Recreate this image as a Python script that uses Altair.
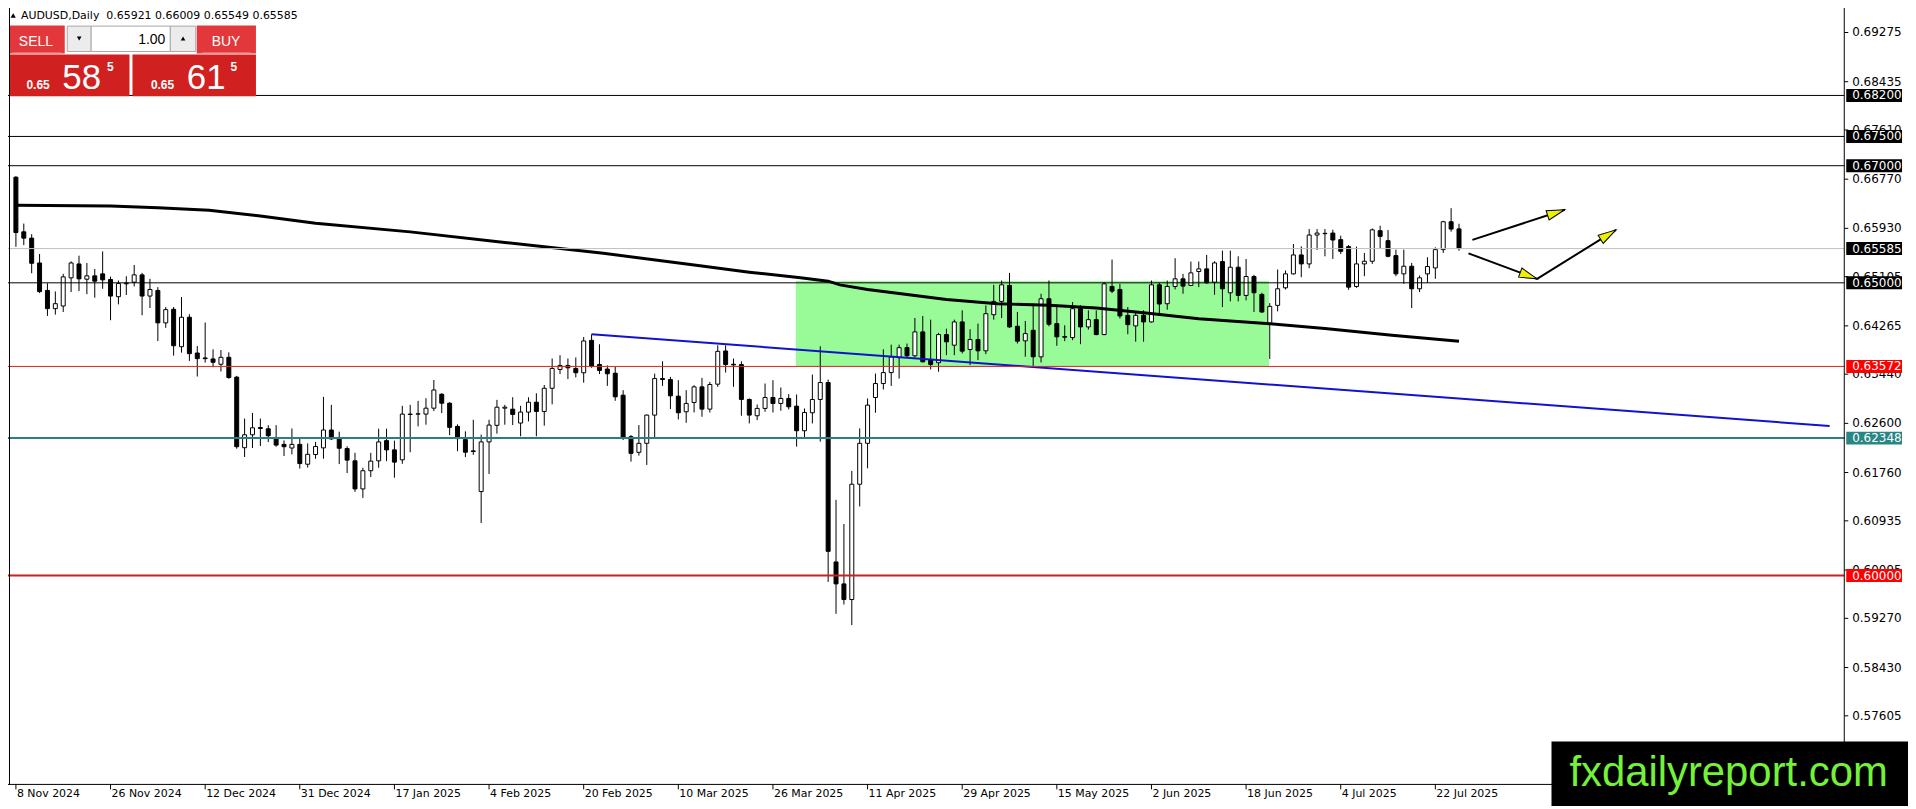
import math
import pandas as pd
import altair as alt

# ---------------- data ----------------
OPEN = [
    0.66804, 0.65871, 0.65763, 0.65339, 0.64870, 0.64559, 0.64604, 0.65085, 0.65322, 0.65062,
    0.65119, 0.65153, 0.65057, 0.64763, 0.64983, 0.65011, 0.65136, 0.64774, 0.64870, 0.64316,
    0.64548, 0.63909, 0.64412, 0.63801, 0.63717, 0.63700, 0.63609, 0.63728, 0.63389, 0.62184,
    0.62405, 0.62529, 0.62507, 0.62354, 0.62241, 0.62179, 0.62241, 0.61902, 0.62068, 0.62181,
    0.62486, 0.62345, 0.62170, 0.61960, 0.61480, 0.61791, 0.61960, 0.62305, 0.62147, 0.61977,
    0.62758, 0.62758, 0.62758, 0.62859, 0.63097, 0.62944, 0.62548, 0.62322, 0.62130, 0.61435,
    0.62283, 0.62566, 0.62859, 0.62842, 0.62605, 0.62792, 0.62961, 0.62803, 0.63199, 0.63521,
    0.63589, 0.63538, 0.63464, 0.64018, 0.63606, 0.63527, 0.63456, 0.63081, 0.62372, 0.62105,
    0.62259, 0.62741, 0.63365, 0.63348, 0.63064, 0.62798, 0.62957, 0.63223, 0.62843, 0.63269,
    0.63836, 0.63609, 0.63604, 0.63008, 0.62730, 0.62855, 0.63042, 0.62940, 0.63025, 0.62894,
    0.62474, 0.62781, 0.63008, 0.63297, 0.60233, 0.59858, 0.59591, 0.61560, 0.62259, 0.63042,
    0.63280, 0.63467, 0.63723, 0.63895, 0.63754, 0.64162, 0.63680, 0.63635, 0.64116, 0.63935,
    0.64332, 0.63861, 0.64031, 0.63839, 0.64456, 0.64683, 0.64955, 0.64258, 0.64009, 0.64190,
    0.63736, 0.64728, 0.64303, 0.64082, 0.64065, 0.64558, 0.64247, 0.64371, 0.64116, 0.64938,
    0.64887, 0.64445, 0.64264, 0.64445, 0.64332, 0.64966, 0.64643, 0.64938, 0.65068, 0.64955,
    0.65193, 0.65238, 0.65011, 0.65363, 0.64830, 0.65266, 0.64785, 0.65108, 0.64802, 0.64292,
    0.64615, 0.64915, 0.65153, 0.65476, 0.65323, 0.65816, 0.65845, 0.65850, 0.65737, 0.65618,
    0.64938, 0.65323, 0.65368, 0.65890, 0.65720, 0.65465, 0.65153, 0.65283, 0.64898, 0.65153,
    0.65255, 0.65567, 0.66043, 0.65921,
]
HIGH = [
    0.66821, 0.66012, 0.65831, 0.65492, 0.64994, 0.64853, 0.65153, 0.65367, 0.65464, 0.65339,
    0.65237, 0.65537, 0.65107, 0.65040, 0.65113, 0.65305, 0.65170, 0.65068, 0.64927, 0.64587,
    0.64587, 0.64757, 0.64463, 0.63920, 0.64322, 0.63864, 0.63852, 0.63813, 0.63411, 0.62682,
    0.62778, 0.62682, 0.62569, 0.62569, 0.62309, 0.62512, 0.62366, 0.62258, 0.62283, 0.63052,
    0.62916, 0.62458, 0.62209, 0.62096, 0.61842, 0.62096, 0.62509, 0.62509, 0.62305, 0.62899,
    0.62916, 0.62984, 0.63029, 0.63340, 0.63114, 0.62961, 0.62582, 0.62464, 0.62661, 0.62407,
    0.62661, 0.63001, 0.62916, 0.63046, 0.62899, 0.63046, 0.63114, 0.63255, 0.63708, 0.63764,
    0.63708, 0.63725, 0.64075, 0.64120, 0.63951, 0.63589, 0.63564, 0.63167, 0.62400, 0.62571,
    0.62752, 0.63450, 0.63660, 0.63393, 0.63337, 0.63167, 0.63252, 0.63376, 0.63308, 0.63933,
    0.63933, 0.63706, 0.63660, 0.63025, 0.62922, 0.63280, 0.63337, 0.63212, 0.63099, 0.63093,
    0.62854, 0.63433, 0.63916, 0.63348, 0.61294, 0.60880, 0.61787, 0.62514, 0.63025, 0.63450,
    0.63865, 0.63944, 0.63944, 0.63963, 0.64400, 0.64434, 0.64371, 0.64145, 0.64218, 0.64371,
    0.64530, 0.64207, 0.64303, 0.64615, 0.64966, 0.65040, 0.65170, 0.64502, 0.64349, 0.64643,
    0.64813, 0.65040, 0.64587, 0.64275, 0.64672, 0.64615, 0.64530, 0.64530, 0.65012, 0.65397,
    0.64983, 0.64587, 0.64502, 0.64530, 0.65040, 0.65000, 0.65040, 0.65420, 0.65153, 0.65363,
    0.65363, 0.65476, 0.65368, 0.65550, 0.65550, 0.65453, 0.65408, 0.65136, 0.64830, 0.64654,
    0.65227, 0.65210, 0.65663, 0.65623, 0.65918, 0.65918, 0.65918, 0.65907, 0.65805, 0.65646,
    0.65618, 0.65510, 0.65929, 0.65975, 0.65901, 0.65567, 0.65567, 0.65340, 0.65125, 0.65436,
    0.65606, 0.66060, 0.66275, 0.66009,
]
LOW = [
    0.65616, 0.65645, 0.65164, 0.64825, 0.64435, 0.64457, 0.64502, 0.64842, 0.64859, 0.64806,
    0.64746, 0.64898, 0.64361, 0.64632, 0.64791, 0.64938, 0.64446, 0.64570, 0.64005, 0.64231,
    0.63756, 0.63807, 0.63666, 0.63400, 0.63637, 0.63558, 0.63485, 0.63360, 0.62167, 0.62026,
    0.62179, 0.62213, 0.62280, 0.62201, 0.62043, 0.62071, 0.61828, 0.61845, 0.61994, 0.61996,
    0.62317, 0.61904, 0.61751, 0.61429, 0.61327, 0.61683, 0.61842, 0.61955, 0.61672, 0.61909,
    0.62107, 0.62548, 0.62577, 0.62809, 0.62775, 0.62396, 0.62124, 0.62023, 0.62062, 0.60897,
    0.61734, 0.62424, 0.62577, 0.62571, 0.62379, 0.62633, 0.62379, 0.62560, 0.62925, 0.63442,
    0.63357, 0.63385, 0.63295, 0.63549, 0.63442, 0.63240, 0.62985, 0.62315, 0.61946, 0.62049,
    0.61890, 0.62361, 0.63240, 0.62843, 0.62667, 0.62610, 0.62786, 0.62713, 0.62786, 0.63223,
    0.63467, 0.63223, 0.62730, 0.62599, 0.62656, 0.62798, 0.62786, 0.62815, 0.62837, 0.62202,
    0.62361, 0.62599, 0.62287, 0.59892, 0.59347, 0.59506, 0.59154, 0.61181, 0.61833, 0.62781,
    0.63178, 0.63240, 0.63365, 0.63725, 0.63725, 0.63640, 0.63521, 0.63481, 0.63765, 0.63765,
    0.63794, 0.63595, 0.63680, 0.63782, 0.64371, 0.64400, 0.64230, 0.63963, 0.63737, 0.63567,
    0.63640, 0.64258, 0.63924, 0.64003, 0.64020, 0.63952, 0.64201, 0.64105, 0.64105, 0.64825,
    0.64388, 0.64122, 0.63994, 0.63994, 0.64320, 0.64473, 0.64541, 0.64887, 0.64813, 0.64944,
    0.64927, 0.64983, 0.64796, 0.64586, 0.64683, 0.64683, 0.64700, 0.64501, 0.64490, 0.63700,
    0.64513, 0.64887, 0.65142, 0.65096, 0.65249, 0.65561, 0.65453, 0.65408, 0.65493, 0.64881,
    0.64915, 0.65113, 0.65323, 0.65589, 0.65436, 0.65113, 0.64983, 0.64569, 0.64841, 0.65000,
    0.65068, 0.65510, 0.65873, 0.65549,
]
CLOSE = [
    0.65859, 0.65763, 0.65334, 0.64850, 0.64559, 0.64644, 0.65102, 0.65339, 0.65068, 0.65119,
    0.65028, 0.65051, 0.64774, 0.64989, 0.64994, 0.65136, 0.64774, 0.64887, 0.64316, 0.64542,
    0.63926, 0.64412, 0.63790, 0.63705, 0.63705, 0.63643, 0.63728, 0.63383, 0.62201, 0.62405,
    0.62524, 0.62512, 0.62388, 0.62229, 0.62201, 0.62241, 0.61913, 0.62071, 0.62204, 0.62486,
    0.62334, 0.62175, 0.61972, 0.61480, 0.61791, 0.61955, 0.62283, 0.62147, 0.61938, 0.62758,
    0.62752, 0.62763, 0.62859, 0.63170, 0.62944, 0.62532, 0.62339, 0.62107, 0.62119, 0.62283,
    0.62571, 0.62876, 0.62876, 0.62752, 0.62792, 0.62961, 0.62803, 0.63199, 0.63538, 0.63589,
    0.63549, 0.63464, 0.64007, 0.63578, 0.63504, 0.63447, 0.63053, 0.62344, 0.62088, 0.62259,
    0.62741, 0.63365, 0.63348, 0.63070, 0.62781, 0.62940, 0.63223, 0.62843, 0.63263, 0.63830,
    0.63604, 0.63598, 0.63008, 0.62741, 0.62855, 0.63042, 0.62940, 0.63025, 0.62883, 0.62474,
    0.62786, 0.63008, 0.63297, 0.60414, 0.59858, 0.59591, 0.61560, 0.62259, 0.62911, 0.63280,
    0.63467, 0.63734, 0.63893, 0.63754, 0.64162, 0.63651, 0.63606, 0.64116, 0.63992, 0.64332,
    0.63833, 0.64031, 0.63839, 0.64473, 0.64683, 0.64966, 0.64247, 0.64003, 0.64133, 0.63736,
    0.64728, 0.64292, 0.64077, 0.64071, 0.64558, 0.64247, 0.64371, 0.64116, 0.64983, 0.64859,
    0.64434, 0.64286, 0.64445, 0.64332, 0.64966, 0.64638, 0.64938, 0.65068, 0.64944, 0.65170,
    0.65238, 0.65000, 0.65340, 0.64898, 0.65266, 0.64785, 0.65108, 0.64830, 0.64501, 0.64598,
    0.64898, 0.65153, 0.65476, 0.65323, 0.65816, 0.65850, 0.65839, 0.65731, 0.65538, 0.64926,
    0.65323, 0.65368, 0.65905, 0.65793, 0.65453, 0.65153, 0.65283, 0.64898, 0.65085, 0.65278,
    0.65567, 0.66043, 0.65918, 0.65585,
]

DATE_LABELS = [
    "8 Nov 2024", "26 Nov 2024", "12 Dec 2024", "31 Dec 2024", "17 Jan 2025", "4 Feb 2025",
    "20 Feb 2025", "10 Mar 2025", "26 Mar 2025", "11 Apr 2025", "29 Apr 2025", "15 May 2025",
    "2 Jun 2025", "18 Jun 2025", "4 Jul 2025", "22 Jul 2025",
]
DATE_STEP = 12  # bars between date labels

PRICE_TICKS = [0.69275, 0.68435, 0.67610, 0.66770, 0.65930, 0.65105, 0.64265, 0.63440,
               0.62600, 0.61760, 0.60935, 0.60095, 0.59270, 0.58430, 0.57605]

# moving average (thick black line)
MA_X = [0, 12, 18, 24.5, 31, 38, 50, 62, 74.5, 86.5, 93, 99.5, 103, 104.5, 108, 113,
        118, 124.5, 131, 137, 143, 150, 159, 166, 174.5, 183]
MA_Y = [0.66323, 0.66312, 0.66283, 0.66238, 0.66142, 0.66018, 0.65870, 0.65690, 0.65505,
        0.65295, 0.65181, 0.65085, 0.65028, 0.64965, 0.64886, 0.64800, 0.64717, 0.64643,
        0.64615, 0.64570, 0.64490, 0.64385, 0.64303, 0.64218, 0.64105, 0.64003]

# blue trend line
TREND_X = [73, 230]
TREND_Y = [0.64120, 0.62555]

# green range box
ZONE_X = [98.9, 158.9]
ZONE_Y = [0.63575, 0.65030]

# arrows
ARROW_X = [[184.7, 196.4], [184.2, 192.9, 202.9]]
ARROW_Y = [[0.65734, 0.66248], [0.65503, 0.65068, 0.65904]]

# horizontal levels
LEVELS = [0.68200, 0.67500, 0.67000, 0.65585, 0.65000, 0.63572, 0.62348, 0.60000]
LEVEL_COLORS = ["#000000", "#000000", "#000000", "#c0c0c0", "#000000", "#e02020", "#2a8080", "#d01e1e"]
LEVEL_WIDTHS = [1, 1, 1, 1, 1, 1, 2, 2]
TAG_COLORS = ["#000000", "#000000", "#000000", "#000000", "#000000", "#ff0000", "#2a8585", "#ff0000"]

SYMBOL = "AUDUSD,Daily"
BID = 0.65585
ASK = 0.65615

# ---------------- geometry ----------------
W, H = 1852, 786
FIRST_BAR_PX = 11.0
PX_X = 7.962     # pixels per bar
PX_Y = 5880.0    # pixels per price unit
X0 = -FIRST_BAR_PX / PX_X
X1 = X0 + W / PX_X
Y1 = 0.65 + 282.3 / PX_Y
Y0 = Y1 - H / PX_Y

xs = alt.Scale(domain=[X0, X1], nice=False, zero=False)
ys = alt.Scale(domain=[Y0, Y1], nice=False, zero=False)

FONT = "DejaVu Sans"

def X(f):
    return alt.X(f, scale=xs, axis=None)

def Y(f):
    return alt.Y(f, scale=ys, axis=None)

candles = pd.DataFrame({
    "i": list(range(len(OPEN))),
    "o": OPEN, "h": HIGH, "l": LOW, "c": CLOSE,
})
candles["fill"] = ["#ffffff" if c >= o else "#000000" for o, c in zip(OPEN, CLOSE)]

zone_df = pd.DataFrame({"x0": [ZONE_X[0]], "x1": [ZONE_X[1]], "y0": [ZONE_Y[0]], "y1": [ZONE_Y[1]]})
zone = alt.Chart(zone_df).mark_rect(color="#98fb98", opacity=1).encode(
    x=X("x0:Q"), x2="x1:Q", y=Y("y0:Q"), y2="y1:Q",
)

wicks = alt.Chart(candles).mark_rule(color="black", strokeWidth=1).encode(
    x=X("i:Q"), y=Y("l:Q"), y2="h:Q",
)

bodies = alt.Chart(candles).mark_bar(size=4, stroke="black", strokeWidth=1, orient="vertical").encode(
    x=X("i:Q"), y=Y("o:Q"), y2="c:Q",
    fill=alt.Fill("fill:N", scale=None),
)

ma_df = pd.DataFrame({"x": MA_X, "y": MA_Y})
ma = alt.Chart(ma_df).mark_line(color="black", strokeWidth=3).encode(x=X("x:Q"), y=Y("y:Q"))

trend_df = pd.DataFrame({"x": TREND_X, "y": TREND_Y})
trend = alt.Chart(trend_df).mark_line(color="#1212cc", strokeWidth=2).encode(x=X("x:Q"), y=Y("y:Q"))

lv_df = pd.DataFrame({"p": LEVELS, "col": LEVEL_COLORS, "w": LEVEL_WIDTHS})
levels = alt.Chart(lv_df).mark_rule().encode(
    y=Y("p:Q"), x=alt.value(0), x2=alt.value(W),
    color=alt.Color("col:N", scale=None),
    strokeWidth=alt.StrokeWidth("w:Q", scale=None),
)

rows = []
heads = []
def heading(xa, ya, xb, yb):
    dx = (xb - xa) * PX_X
    dy = -(yb - ya) * PX_Y
    return math.degrees(math.atan2(dx, -dy)) % 360

for s, (ax, ay) in enumerate(zip(ARROW_X, ARROW_Y)):
    for k, (px, py) in enumerate(zip(ax, ay)):
        rows.append({"seg": s, "ord": k, "x": px, "y": py})
        if k > 0:
            heads.append({"x": px, "y": py, "ang": heading(ax[k - 1], ay[k - 1], px, py)})
arrow_df = pd.DataFrame(rows)
head_df = pd.DataFrame(heads)

arrows = alt.Chart(arrow_df).mark_line(color="black", strokeWidth=2).encode(
    x=X("x:Q"), y=Y("y:Q"), detail="seg:N", order="ord:Q",
)
arrow_heads = alt.Chart(head_df).mark_point(
    shape="M0,0L-0.27,1L0.27,1Z", size=1300, filled=True, fill="#eef000",
    stroke="black", strokeWidth=1, opacity=1, fillOpacity=1,
).encode(x=X("x:Q"), y=Y("y:Q"), angle=alt.Angle("ang:Q", scale=None))

# ---------------- axes (drawn with the shared scales) ----------------
ptick_df = pd.DataFrame({"p": PRICE_TICKS, "label": [f"{v:.5f}" for v in PRICE_TICKS]})
dtick_df = pd.DataFrame({"i": [k * DATE_STEP for k in range(len(DATE_LABELS))], "label": DATE_LABELS})

one = pd.DataFrame({"k": [0]})

right_line = alt.Chart(one).mark_rule(color="black", strokeWidth=1).encode(
    x=alt.value(W), y=alt.value(0), y2=alt.value(H + 1))
bottom_line = alt.Chart(one).mark_rule(color="black", strokeWidth=1).encode(
    x=alt.value(0), x2=alt.value(W), y=alt.value(H))
left_line = alt.Chart(one).mark_rule(color="black", strokeWidth=1).encode(
    x=alt.value(9.5), y=alt.value(0), y2=alt.value(H))

p_ticks = alt.Chart(ptick_df).mark_rule(color="black", strokeWidth=1).encode(
    y=Y("p:Q"), x=alt.value(W), x2=alt.value(W + 4))
p_labels = alt.Chart(ptick_df).mark_text(
    align="left", baseline="middle", font=FONT, fontSize=12, color="black",
).encode(y=Y("p:Q"), x=alt.value(W + 8), text="label:N")

d_ticks = alt.Chart(dtick_df).mark_rule(color="black", strokeWidth=1).encode(
    x=X("i:Q"), y=alt.value(H), y2=alt.value(H + 5))
d_labels = alt.Chart(dtick_df).mark_text(
    align="left", baseline="top", font=FONT, fontSize=11, color="black", dx=1,
).encode(x=X("i:Q"), y=alt.value(H + 4), text="label:N")

tag_df = pd.DataFrame({"p": LEVELS, "tcol": TAG_COLORS, "label": [f"{v:.5f}" for v in LEVELS]})
tags = alt.Chart(tag_df).mark_point(
    shape="M-1,-0.232L1,-0.232L1,0.232L-1,0.232Z", size=3136, filled=True,
    opacity=1, strokeWidth=0,
).encode(x=alt.value(W + 30), y=Y("p:Q"), fill=alt.Fill("tcol:N", scale=None))
tag_text = alt.Chart(tag_df).mark_text(
    align="left", baseline="middle", font=FONT, fontSize=12, color="white",
).encode(x=alt.value(W + 8), y=Y("p:Q"), text="label:N")

# ---------------- chrome (header, trade panel, watermark) ----------------
def box(x0, x1, y0, y1, fill, stroke=None, sw=0):
    kw = {"fill": fill, "strokeWidth": sw}
    if stroke:
        kw["stroke"] = stroke
    return alt.Chart(one).mark_rect(**kw).encode(
        x=alt.value(x0), x2=alt.value(x1), y=alt.value(y0), y2=alt.value(y1))

def txt(x, y, s, size, color="black", align="left", weight="normal", font="Liberation Sans"):
    return alt.Chart(one).mark_text(
        text=s, align=align, baseline="alphabetic", font=font, fontSize=size,
        fontWeight=weight, color=color,
    ).encode(x=alt.value(x), y=alt.value(y))

def tri(x, y, shape, size):
    return alt.Chart(one).mark_point(shape=shape, size=size, filled=True, color="black",
                                     opacity=1).encode(x=alt.value(x), y=alt.value(y))

header = "\u00a0".join([SYMBOL + "\u00a0", f"{OPEN[-1]:.5f}", f"{HIGH[-1]:.5f}",
                        f"{LOW[-1]:.5f}", f"{CLOSE[-1]:.5f}"])

def split_price(p):
    s = f"{p:.5f}"
    return s[:4], s[4:6], s[6]

bid_a, bid_b, bid_c = split_price(BID)
ask_a, ask_b, ask_c = split_price(ASK)

chrome = [
    tri(13.2, 13.8, "triangle-up", 28),
    txt(21, 17.5, header, 11, font=FONT),
    # SELL / BUY buttons
    box(10, 65, 24, 52, "#e3383b"),
    box(12, 62, 51, 52, "#f29a9a"),
    txt(36, 44.5, "SELL", 14, color="white", align="center"),
    box(197.5, 257, 24, 52, "#e3383b"),
    box(203, 252, 51, 52, "#f29a9a"),
    txt(227, 44.5, "BUY", 14, color="white", align="center"),
    # lot controls
    box(67.5, 91.5, 24.5, 50, "#ececec", "#a8a8a8", 1),
    tri(79.5, 37, "triangle-down", 22),
    box(91.5, 171, 24.5, 50, "#ffffff", "#a8a8a8", 1),
    txt(166, 42.5, "1.00", 14, align="right"),
    box(171, 196.5, 24.5, 50, "#ececec", "#a8a8a8", 1),
    tri(183.8, 37, "triangle-up", 22),
    # price boxes
    box(10, 130, 53, 95, "#d0201f"),
    box(133, 257, 53, 95, "#d0201f"),
    txt(26.5, 88, bid_a, 12, color="white", weight="bold"),
    txt(62.5, 87.5, bid_b, 35, color="white"),
    txt(107.5, 70, bid_c, 12, color="white", weight="bold"),
    txt(151.5, 88, ask_a, 12, color="white", weight="bold"),
    txt(187.5, 87.5, ask_b, 35, color="white"),
    txt(231.5, 70, ask_c, 12, color="white", weight="bold"),
    # watermark
    box(1558, 1920, 743, 812, "#000000"),
    txt(1576, 788, "fxdailyreport.com", 42, color="#74f23a"),
]

chart = alt.layer(
    zone, wicks, bodies, ma, trend, levels, arrows, arrow_heads,
    left_line, right_line, bottom_line, p_ticks, p_labels, d_ticks, d_labels,
    tags, tag_text, *chrome,
).properties(
    width=W, height=H,
    padding={"left": -8, "top": -8, "right": 64, "bottom": 20},
    autosize=alt.AutoSizeParams(type="none"),
    background="white",
).configure_view(stroke=None)

chart.save("out.html", embed_options={"renderer": "svg", "actions": False})
